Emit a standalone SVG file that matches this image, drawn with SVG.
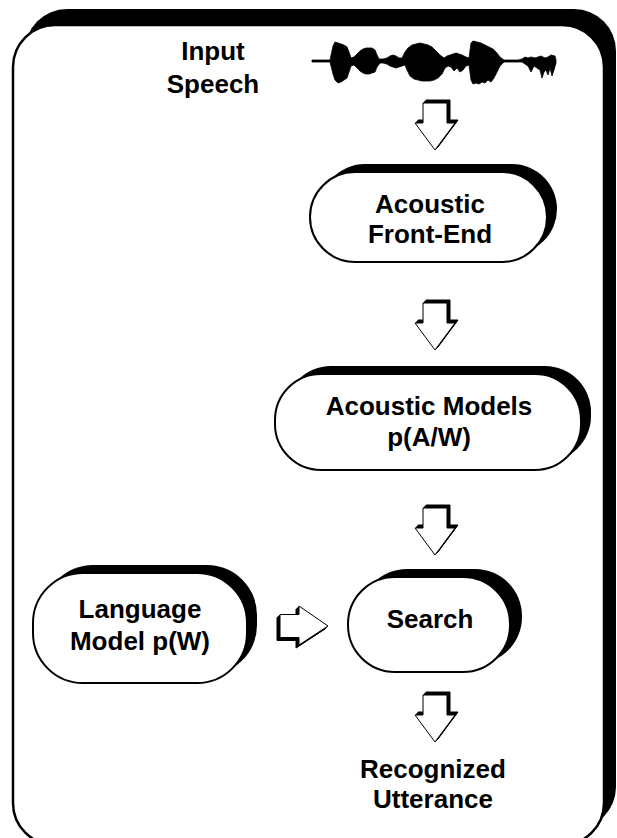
<svg xmlns="http://www.w3.org/2000/svg" width="617" height="838" viewBox="0 0 617 838">
<style>
  .t{font-family:"Liberation Sans",Arial,sans-serif;font-weight:bold;font-size:26px;fill:#000;text-anchor:middle}
  .box{fill:#fff;stroke:#000;stroke-width:2}
  .sh{fill:#000}
  .ar{fill:#fff;stroke:#000;stroke-width:1}
  .ars{fill:#000;stroke:#000;stroke-width:1}
</style>
<defs>
  <polygon id="down" points="-12,0 12,0 12,20 20,20 0,47 -20,20 -12,20"/>
  <polygon id="right" points="0,-11.5 19,-11.5 19,-20 48,0 19,19 19,11.5 0,11.5"/>
</defs>
<g id="frame">
  <rect x="25" y="9" width="591" height="820" rx="42" class="sh"/>
  <rect x="13" y="25" width="591" height="820" rx="42" fill="#fff" stroke="#000" stroke-width="2.5"/>
</g>
<g id="input-speech">
  <text class="t" x="213" y="60">Input</text>
  <text class="t" x="213" y="93">Speech</text>
  <path fill="#000" stroke="#000" stroke-width="0.8" d="M312,60 L330,60 L333,46 L335,42 L338,43 L341,44 L344,45 L347,47 L349,52 L351,58 L354,57 L357,54 L360,51 L363,49 L366,48 L369,48 L372,48 L375,50 L377,55 L379,59 L383,59 L387,58 L390,56 L393,55 L396,56 L399,58 L402,58 L405,52 L408,48 L412,45 L416,44 L420,43 L424,44 L428,45 L432,47 L436,51 L440,55 L444,58 L447,56 L450,55 L453,54 L456,53 L459,54 L462,55 L466,57 L469,58 L471,43 L473,41 L477,42 L481,43 L485,45 L489,47 L493,49 L497,53 L500,57 L504,60 L510,60 L518,60 L522,59 L525,57 L528,58 L531,57 L535,58 L538,57 L541,56 L545,58 L548,57 L551,55 L555,56 L556,60 L556,63 L554,70 L552,76 L550,68 L548,75 L546,70 L544,72 L542,78 L540,70 L537,68 L534,66 L531,72 L528,66 L525,64 L522,62 L510,62 L504,62 L500,66 L497,72 L494,78 L491,82 L488,80 L485,83 L482,82 L479,84 L476,83 L473,84 L471,80 L469,65 L466,66 L463,70 L460,72 L457,68 L454,71 L451,67 L448,66 L445,68 L442,74 L438,78 L434,80 L430,81 L426,81 L422,81 L418,80 L414,79 L410,76 L407,70 L405,65 L402,66 L399,67 L396,68 L393,67 L390,66 L387,64 L383,63 L380,63 L377,67 L375,72 L372,73 L369,74 L366,74 L363,73 L360,71 L357,68 L354,65 L351,66 L349,72 L347,78 L344,80 L341,82 L338,83 L335,80 L333,74 L330,62 L312,62 Z"/>
</g>
<g id="front-end">
  <rect x="320" y="164" width="237" height="90" rx="45" class="sh"/>
  <rect x="310" y="172" width="237" height="90" rx="45" class="box"/>
  <text class="t" x="430" y="213">Acoustic</text>
  <text class="t" x="430" y="243">Front-End</text>
</g>
<g id="acoustic-models">
  <rect x="285" y="366" width="306" height="96" rx="46" class="sh"/>
  <rect x="275" y="374" width="306" height="96" rx="46" class="box"/>
  <text class="t" x="429" y="415">Acoustic Models</text>
  <text class="t" x="429" y="446">p(A/W)</text>
</g>
<g id="language-model">
  <rect x="43" y="565" width="214" height="110" rx="50" class="sh"/>
  <rect x="33" y="573" width="214" height="110" rx="50" class="box"/>
  <text class="t" x="140" y="618">Language</text>
  <text class="t" x="140" y="650">Model p(W)</text>
</g>
<g id="search">
  <rect x="360" y="569" width="162" height="95" rx="47" class="sh"/>
  <rect x="348" y="577" width="162" height="95" rx="47" class="box"/>
  <text class="t" x="430" y="628">Search</text>
</g>
<g id="output">
  <text class="t" x="433" y="778">Recognized</text>
  <text class="t" x="433" y="808">Utterance</text>
</g>
<g id="connectors">
  <g transform="translate(435,103)">
    <use href="#down" class="ars" transform="translate(3,-3)"/><use href="#down" class="ars" transform="translate(2,-2)"/><use href="#down" class="ars" transform="translate(1,-1)"/>
    <use href="#down" class="ar"/>
  </g>
  <g transform="translate(435,303)">
    <use href="#down" class="ars" transform="translate(3,-3)"/><use href="#down" class="ars" transform="translate(2,-2)"/><use href="#down" class="ars" transform="translate(1,-1)"/>
    <use href="#down" class="ar"/>
  </g>
  <g transform="translate(435,508)">
    <use href="#down" class="ars" transform="translate(3,-3)"/><use href="#down" class="ars" transform="translate(2,-2)"/><use href="#down" class="ars" transform="translate(1,-1)"/>
    <use href="#down" class="ar"/>
  </g>
  <g transform="translate(435,695)">
    <use href="#down" class="ars" transform="translate(3,-3)"/><use href="#down" class="ars" transform="translate(2,-2)"/><use href="#down" class="ars" transform="translate(1,-1)"/>
    <use href="#down" class="ar"/>
  </g>
  <g transform="translate(280,626)">
    <use href="#right" class="ars" transform="translate(-3,3)"/><use href="#right" class="ars" transform="translate(-2,2)"/><use href="#right" class="ars" transform="translate(-1,1)"/>
    <use href="#right" class="ar"/>
  </g>
</g>
</svg>
